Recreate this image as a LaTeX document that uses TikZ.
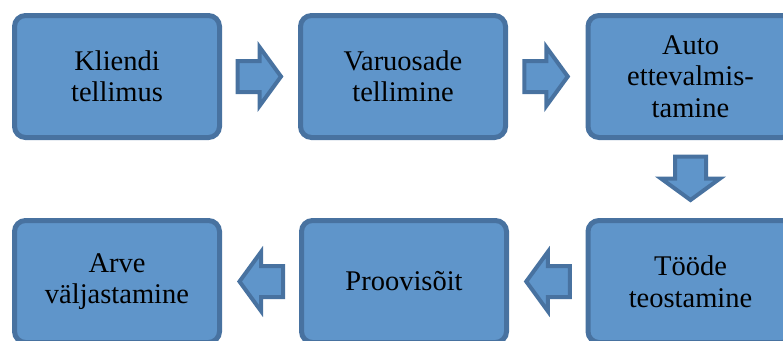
\documentclass[tikz,border=0pt]{standalone}
\usepackage{fontspec}
\setmainfont{Liberation Serif}
\usetikzlibrary{calc}
\definecolor{boxfill}{HTML}{5F95CA}
\definecolor{boxline}{HTML}{4872A0}
\tikzset{
  stagebox/.style={draw=boxline, fill=boxfill, line width=5pt, rounded corners=11pt,
    minimum width=205pt, minimum height=122pt, outer sep=0pt, inner sep=2pt,
    align=center, font=\fontsize{28.5}{31.5}\selectfont, text=black},
  blockarrow/.style={draw=boxline, fill=boxfill, line width=4pt, line join=miter}
}
\newcommand\flowarrow[2]{%
  \draw[blockarrow, shift={(#1)}, rotate=#2]
    (-22.5,-15.5) -- (-0.5,-15.5) -- (-0.5,-29.5) -- (21,0) -- (-0.5,29.5)
    -- (-0.5,15.5) -- (-22.5,15.5) -- cycle;}
\begin{document}
\begin{tikzpicture}[x=1pt,y=1pt]
\useasboundingbox (0,0) rectangle (783,-340);
\clip (0,0) rectangle (783,-340);
\node[stagebox] (b1) at (117,-76.5) {Kliendi\\tellimus};
\node[stagebox] (b2) at (403,-76.5) {Varuosade\\tellimine};
\node[stagebox] (b3) at (690.5,-76.5) {Auto\\ettevalmis-\\tamine};
\node[stagebox] (b4) at (690.5,-281.5) {Tööde\\teostamine};
\node[stagebox] (b5) at (404,-281.5) {Proovisõit};
\node[stagebox] (b6) at (117,-281.5) {Arve\\väljastamine};
\coordinate (a1) at ($(b1.east)!0.5!(b2.west)$);
\coordinate (a2) at ($(b2.east)!0.5!(b3.west)$);
\coordinate (a3) at ($(b3.south)!0.5!(b4.north)$);
\coordinate (a4) at ($(b4.west)!0.5!(b5.east)$);
\coordinate (a5) at ($(b5.west)!0.5!(b6.east)$);
\flowarrow{a1}{0}
\flowarrow{a2}{0}
\flowarrow{a3}{-90}
\flowarrow{a4}{180}
\flowarrow{a5}{180}
\end{tikzpicture}
\end{document}
